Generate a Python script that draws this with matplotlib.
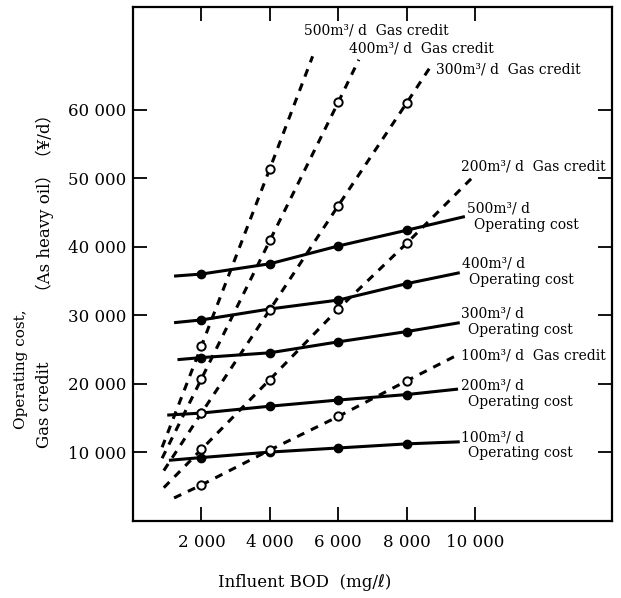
import matplotlib
matplotlib.use("Agg")
import matplotlib.pyplot as plt

plt.rcParams['font.family'] = ['DejaVu Serif', 'DejaVu Sans', 'Noto Sans CJK JP']

# influent BOD where the points were computed
bod = [2000, 4000, 6000, 8000]

# operating cost lines (first/last value = where the drawn line stops)
op_x_100 = [1050, 2000, 4000, 6000, 8000, 9550]
op_y_100 = [8800, 9200, 10000, 10600, 11200, 11500]
op_x_200 = [1000, 2000, 4000, 6000, 8000, 9500]
op_y_200 = [15400, 15700, 16700, 17600, 18400, 19200]
op_x_300 = [1300, 2000, 4000, 6000, 8000, 9550]
op_y_300 = [23500, 23800, 24500, 26100, 27600, 28900]
op_x_400 = [1200, 2000, 4000, 6000, 8000, 9550]
op_y_400 = [28900, 29300, 30900, 32200, 34600, 36200]
op_x_500 = [1200, 2000, 4000, 6000, 8000, 9700]
op_y_500 = [35700, 36000, 37500, 40100, 42400, 44400]

# gas credit lines
gc_x_100 = [1200, 2000, 4000, 6000, 8000, 9450]
gc_y_100 = [3300, 5200, 10300, 15200, 20400, 24100]
gc_x_200 = [900, 2000, 4000, 6000, 8000, 9900]
gc_y_200 = [4800, 10400, 20600, 30900, 40500, 50000]
gc_x_300 = [900, 2000, 4000, 6000, 8000, 8750]
gc_y_300 = [7300, 15700, 30800, 46000, 61000, 66700]
gc_x_400 = [850, 2000, 4000, 6000, 6600]
gc_y_400 = [9100, 20700, 40900, 61100, 67300]
gc_x_500 = [850, 2000, 4000, 5250]
gc_y_500 = [10700, 25500, 51400, 67800]

x_ticks = [2000, 4000, 6000, 8000, 10000]
x_labels = ["2 000", "4 000", "6 000", "8 000", "10 000"]
y_ticks = [10000, 20000, 30000, 40000, 50000, 60000]
y_labels = ["10 000", "20 000", "30 000", "40 000", "50 000", "60 000"]

fig = plt.figure(figsize=(6.21, 5.98), dpi=100)
ax = fig.add_axes([0.2142, 0.1295, 0.7713, 0.8588])

for xs, ys in [(op_x_100, op_y_100), (op_x_200, op_y_200), (op_x_300, op_y_300),
               (op_x_400, op_y_400), (op_x_500, op_y_500)]:
    ax.plot(xs, ys, color='black', lw=2.2, solid_capstyle='butt',
            marker='o', ms=6, markevery=[1, 2, 3, 4])

for xs, ys in [(gc_x_100, gc_y_100), (gc_x_200, gc_y_200), (gc_x_300, gc_y_300),
               (gc_x_400, gc_y_400), (gc_x_500, gc_y_500)]:
    ax.plot(xs, ys, color='black', lw=2.2, dashes=(2.6, 2.4))
    ax.plot(xs[1:-1], ys[1:-1], ls='none', marker='o', ms=6,
            mfc='white', mec='black', mew=1.4)

fs = 10
ax.text(5000, 71600, "500m³/ d  Gas credit", fontsize=fs, va='center')
ax.text(6320, 68900, "400m³/ d  Gas credit", fontsize=fs, va='center')
ax.text(8860, 65800, "300m³/ d  Gas credit", fontsize=fs, va='center')
ax.text(9590, 51700, "200m³/ d  Gas credit", fontsize=fs, va='center')
ax.text(9590, 24100, "100m³/ d  Gas credit", fontsize=fs, va='center')
for x0, y0, lab in [(9770, 45600, "500m³/ d"), (9620, 37500, "400m³/ d"),
                    (9590, 30200, "300m³/ d"), (9590, 19700, "200m³/ d"),
                    (9590, 12200, "100m³/ d")]:
    ax.text(x0, y0, lab, fontsize=fs, va='center')
    ax.text(x0 + 200, y0 - 2400, "Operating cost", fontsize=fs, va='center')

ax.set_xlim(0, 14000)
ax.set_ylim(0, 75000)
ax.set_xticks(x_ticks)
ax.set_xticklabels(x_labels, fontsize=12)
ax.set_yticks(y_ticks)
ax.set_yticklabels(y_labels, fontsize=12)
ax.tick_params(direction='in', length=10, width=1.3, top=True, right=True)
ax.tick_params(axis='x', pad=10)
ax.tick_params(axis='y', pad=5)
for s in ax.spines.values():
    s.set_linewidth(1.6)

# axis titles placed where the reference has them (x title is left of centre)
fig.text(0.491, 0.026, "Influent BOD  (mg/ℓ)", fontsize=12,
         ha='center', va='center')
fig.text(0.034, 0.383, "Operating cost,", rotation=90, fontsize=11,
         ha='center', va='center')
fig.text(0.072, 0.323, "Gas credit", rotation=90, fontsize=12,
         ha='center', va='center')
fig.text(0.072, 0.66, "（As heavy oil）（¥/d）", rotation=90, fontsize=12,
         ha='center', va='center')

fig.savefig("out.png", dpi=100)
